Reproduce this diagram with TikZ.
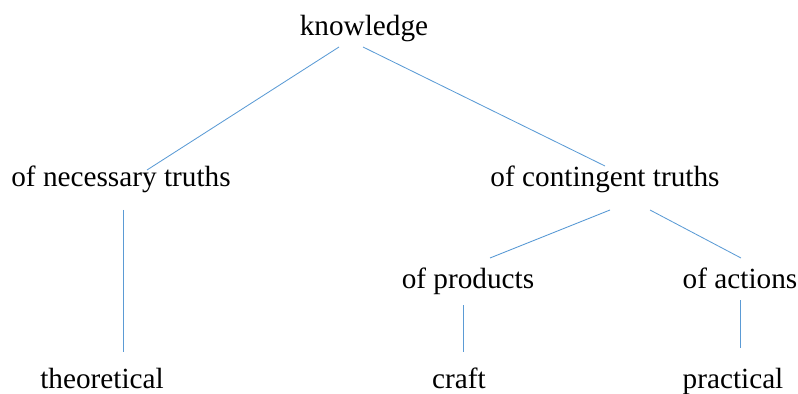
\documentclass[tikz,border=0pt]{standalone}
\usepackage{fontspec}
\setmainfont{Liberation Serif}
\definecolor{branchblue}{RGB}{91,155,213}
\tikzset{
    term/.style={anchor=base, inner sep=0pt, font=\fontsize{20.8}{25}\selectfont},
    branch/.style={branchblue, line width=0.6pt}
}

\begin{document}
\begin{tikzpicture}[x=0.025cm, y=-0.025cm, line join = round]
    \useasboundingbox (0,0) rectangle (798,394);
    \node[term] (knowledge) at (364,36) {knowledge};
    \node[term] (necessary) at (121,186) {of necessary truths};
    \node[term] (contingent) at (605,186) {of contingent truths};
    \node[term] (products) at (468,288) {of products};
    \node[term] (actions) at (740,288) {of actions};
    \node[term] (theoretical) at (102,388) {theoretical};
    \node[term] (craft) at (459,388) {craft};
    \node[term] (practical) at (733,388) {practical};

    % line ends
    \coordinate (k1) at (339,47);  \coordinate (n1) at (147,170);
    \coordinate (k2) at (363,47);  \coordinate (c1) at (605,166);
    \coordinate (n2) at (123,210); \coordinate (t1) at (123,352);
    \coordinate (c2) at (610,210); \coordinate (p1) at (490,258);
    \coordinate (c3) at (650,210); \coordinate (a1) at (741,258);
    \coordinate (p2) at (463,305); \coordinate (cr) at (463,352);
    \coordinate (a2) at (740,300); \coordinate (pr) at (740,348);

    \draw[branch] (k1) -- (n1);
    \draw[branch] (k2) -- (c1);
    \draw[branch] (n2) -- (t1);
    \draw[branch] (c2) -- (p1);
    \draw[branch] (c3) -- (a1);
    \draw[branch] (p2) -- (cr);
    \draw[branch] (a2) -- (pr);

\end{tikzpicture}
\end{document}
